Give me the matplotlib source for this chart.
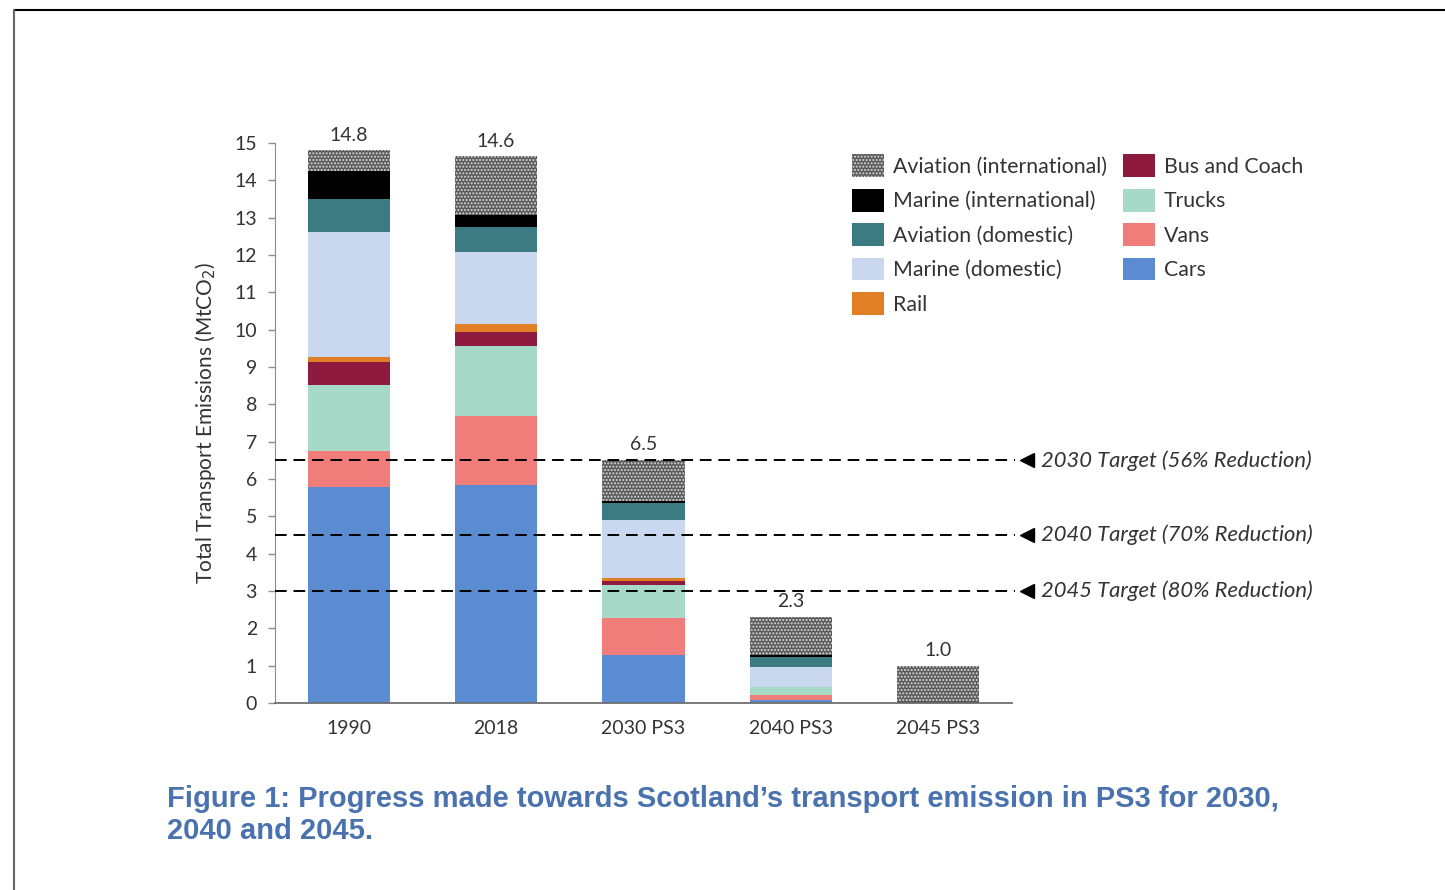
import matplotlib
matplotlib.use("Agg")
import matplotlib.pyplot as plt
from matplotlib.lines import Line2D
from matplotlib.patches import Patch
import numpy as np

plt.rcParams['font.family'] = ['Lato', 'DejaVu Sans']

# Scenario / year columns
categories = ["1990", "2018", "2030 PS3", "2040 PS3", "2045 PS3"]

# Emissions by transport mode, MtCO2 (stacked bottom to top)
cars                = [5.78, 5.83, 1.28, 0.08, 0.00]
vans                = [0.98, 1.87, 1.00, 0.13, 0.00]
trucks              = [1.76, 1.87, 0.88, 0.22, 0.00]
bus_and_coach       = [0.62, 0.38, 0.12, 0.00, 0.00]
rail                = [0.14, 0.20, 0.08, 0.00, 0.00]
marine_domestic     = [3.34, 1.94, 1.55, 0.53, 0.00]
aviation_domestic   = [0.87, 0.67, 0.45, 0.27, 0.00]
marine_intl         = [0.76, 0.31, 0.05, 0.06, 0.02]
aviation_intl       = [0.55, 1.57, 1.09, 1.01, 0.98]

# Reduction targets
target_values = [6.5, 4.5, 3.0]
target_labels = ["2030 Target (56% Reduction)",
                 "2040 Target (70% Reduction)",
                 "2045 Target (80% Reduction)"]

series = [
    ("Cars", cars, "#5b8bd1", None),
    ("Vans", vans, "#f07d79", None),
    ("Trucks", trucks, "#a7d9c9", None),
    ("Bus and Coach", bus_and_coach, "#8f1a3f", None),
    ("Rail", rail, "#e17f27", None),
    ("Marine (domestic)", marine_domestic, "#c9d8ef", None),
    ("Aviation (domestic)", aviation_domestic, "#3b7b81", None),
    ("Marine (international)", marine_intl, "#000000", None),
    ("Aviation (international)", aviation_intl, "#5a5a5a", "....."),
]

fig = plt.figure(figsize=(14.45, 8.9), dpi=100)
ax = fig.add_axes([0.1903, 0.2101, 0.5100, 0.6292])

x = np.arange(len(categories))
width = 0.557
bottom = np.zeros(len(categories))
handles = {}
for name, vals, color, hatch in series:
    vals = np.array(vals)
    if hatch:
        ax.bar(x, vals, width, bottom=bottom, facecolor=color,
               edgecolor="#d9d9d9", linewidth=0, hatch=hatch, zorder=2)
        handles[name] = Patch(facecolor=color, edgecolor="#d9d9d9",
                              linewidth=0, hatch=hatch)
    else:
        ax.bar(x, vals, width, bottom=bottom, color=color,
               linewidth=0, zorder=2)
        handles[name] = Patch(facecolor=color, linewidth=0)
    bottom = bottom + vals

# Totals above the bars
for xi, tot in zip(x, bottom):
    ax.annotate(f"{tot:.1f}", (xi, tot), xytext=(0, 5),
                textcoords="offset points", ha="center", va="bottom",
                fontsize=14, color="#333333")

# Target lines with labels to the right of the plot
for val, lab in zip(target_values, target_labels):
    ax.plot([-0.5, 4.52], [val, val], color="black", lw=1.4,
            dashes=(6, 3.5), zorder=3, clip_on=False)
    ax.plot([4.6], [val], marker="<", color="black", markersize=10,
            clip_on=False, zorder=3)
    ax.text(4.7, val, lab, fontsize=15.8, style="italic",
            color="#333333", va="center", ha="left", clip_on=False)

ax.set_xlim(-0.5, 4.5)
ax.set_ylim(0, 15)
ax.set_yticks(range(0, 16))
ax.set_xticks(x)
ax.set_xticklabels(categories)
ax.tick_params(axis="x", length=0, pad=12, labelsize=14, labelcolor="#333333")
ax.tick_params(axis="y", length=5, width=1, color="#8c8c8c", pad=8,
               labelsize=14, labelcolor="#333333")
for side in ("top", "right"):
    ax.spines[side].set_visible(False)
ax.spines["left"].set_color("#8c8c8c")
ax.spines["bottom"].set_color("#6e6e6e")
ax.spines["bottom"].set_linewidth(1.3)
ax.set_ylabel("Total Transport Emissions (MtCO$_2$)", fontsize=15,
              color="#333333", labelpad=12)

legend_order = ["Aviation (international)", "Marine (international)",
                "Aviation (domestic)", "Marine (domestic)", "Rail",
                "Bus and Coach", "Trucks", "Vans", "Cars"]
fig.legend([handles[n] for n in legend_order], legend_order,
           loc="upper left", bbox_to_anchor=(0.5765, 0.848), ncol=2,
           frameon=False, fontsize=15.3, handlelength=1.52, handleheight=1.27,
           handletextpad=0.4, columnspacing=0.75, labelspacing=0.55,
           labelcolor="#333333")

# Caption
fig.text(167 / 1445, 1 - 785 / 890,
         "Figure 1: Progress made towards Scotland\u2019s transport emission in PS3 for 2030,\n2040 and 2045.",
         family=["Liberation Sans"], weight="bold",
         fontsize=21, color="#4a72ae", ha="left", va="top", linespacing=1.2)

# Page frame (top and left edges)
fig.add_artist(Line2D([14 / 1445, 1.0], [1 - 10 / 890, 1 - 10 / 890],
                      color="black", lw=1.5, transform=fig.transFigure))
fig.add_artist(Line2D([14 / 1445, 14 / 1445], [0, 1 - 10 / 890],
                      color="#666666", lw=1.5, transform=fig.transFigure))

fig.savefig("out.png", dpi=100, facecolor="white")
